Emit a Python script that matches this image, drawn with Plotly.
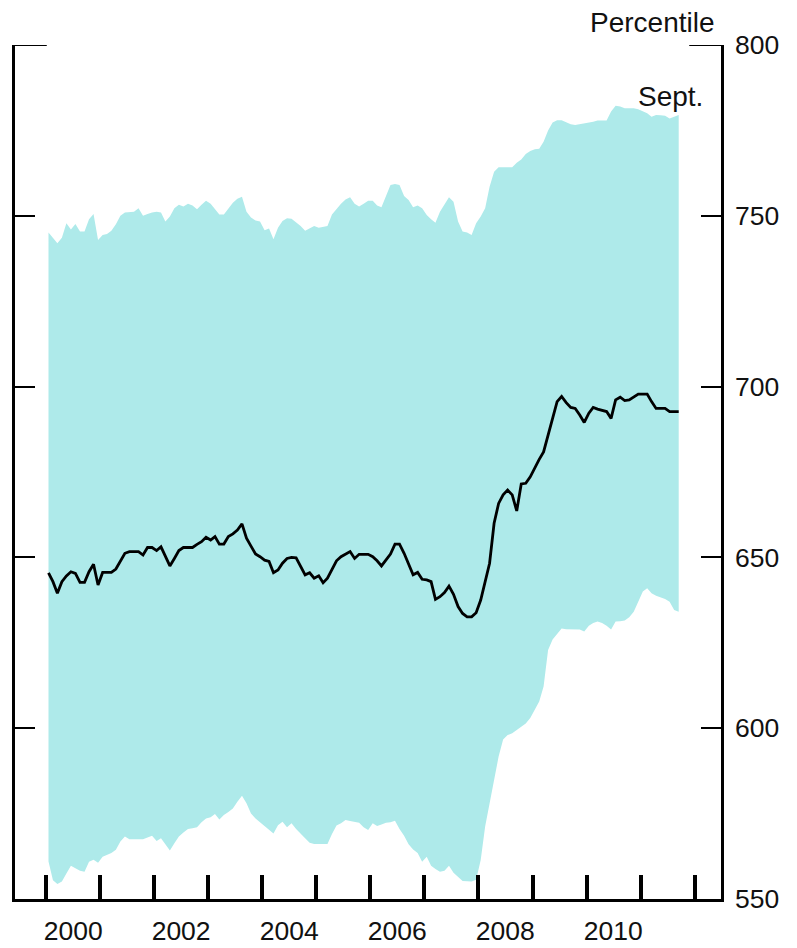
import plotly.graph_objects as go

# Monthly observations, Jan 2000 .. Sept 2011
months = [f"{2000 + m // 12}-{m % 12 + 1:02d}" for m in range(141)]

# 90th (upper) and 10th (lower) percentile band
band_high = [
    745.1, 743.5, 742.0, 743.6, 747.8, 746.0, 747.6, 745.4, 745.4, 749.0,
    750.5, 742.9, 744.4, 744.7, 745.6, 747.5, 750.0, 751.0, 751.2, 751.2,
    752.2, 750.0, 750.5, 751.0, 751.2, 751.0, 748.3, 749.8, 752.2, 753.2,
    752.7, 753.5, 753.0, 751.9, 753.2, 754.4, 753.5, 752.0, 750.4, 750.4,
    752.0, 753.8, 755.0, 755.6, 751.2, 749.5, 748.6, 748.3, 745.8, 746.3,
    743.1, 746.5, 748.5, 749.3, 749.1, 748.0, 747.0, 745.6, 746.3, 747.0,
    746.5, 746.8, 747.0, 750.4, 752.0, 753.5, 754.8, 755.4, 753.5, 752.7,
    753.5, 754.4, 754.4, 753.0, 752.5, 755.5, 759.0, 759.3, 759.0, 755.8,
    754.6, 752.5, 753.0, 752.2, 750.2, 749.0, 748.0, 751.2, 753.5, 755.4,
    754.1, 748.3, 745.4, 745.1, 744.4, 747.8, 749.8, 752.2, 758.5, 762.9,
    764.2, 764.2, 764.2, 764.2, 765.5, 766.5, 768.1, 769.0, 769.5, 769.6,
    771.7, 775.0, 777.3, 778.0, 778.0, 777.5, 776.8, 776.6, 776.8, 777.2,
    777.4, 777.5, 777.9, 778.0, 777.9, 780.5, 782.2, 782.0, 781.5, 781.5,
    781.5, 781.2, 780.7, 780.0, 779.0, 779.5, 779.4, 779.3, 778.5, 779.0,
    779.5,
]
band_low = [
    561.0, 555.5, 554.4, 555.1, 557.5, 559.7, 559.0, 558.3, 558.0, 560.9,
    561.5, 560.6, 562.4, 562.9, 563.5, 564.4, 566.8, 568.3, 567.5, 567.5,
    567.5, 567.5, 568.0, 568.5, 567.0, 567.8, 566.0, 564.2, 566.3, 568.3,
    569.5, 570.5, 570.7, 571.0, 572.5, 573.6, 573.9, 574.9, 573.3, 574.6,
    575.5, 576.5, 578.5, 580.2, 578.0, 575.0, 573.6, 572.5, 571.6, 570.5,
    569.2, 571.6, 572.6, 571.0, 572.2, 570.5, 569.0, 567.8, 566.5, 566.1,
    566.1, 566.1, 566.1, 569.0, 571.5, 572.2, 573.1, 572.8, 572.6, 572.3,
    571.0, 570.2, 572.2, 571.4, 571.8, 572.3, 572.5, 572.9, 570.5, 568.5,
    566.0, 564.5, 563.5, 560.9, 562.4, 559.7, 558.8, 558.0, 558.3, 559.7,
    557.7, 556.5, 555.3, 555.2, 555.1, 555.6, 561.4, 571.2, 578.0, 583.9,
    591.7, 596.7, 598.0, 598.5, 599.5, 600.5, 601.4, 603.0, 605.5, 607.8,
    612.2, 622.9, 626.0, 627.5, 629.2, 629.0, 628.9, 628.9, 628.9, 628.3,
    630.0, 630.8, 631.2, 630.8, 630.0, 628.9, 631.2, 631.3, 631.5, 632.5,
    634.1, 637.0, 640.0, 641.0, 639.5, 638.8, 638.3, 637.8, 637.0, 634.6,
    634.1,
]
# median percentile
median = [
    645.5, 642.9, 639.5, 642.9, 644.6, 645.8, 645.3, 642.7, 642.7, 645.8,
    648.0, 641.9, 645.6, 645.6, 645.6, 646.6, 649.0, 651.2, 651.7, 651.7,
    651.7, 650.7, 652.9, 652.9, 652.0, 653.1, 650.2, 647.5, 649.7, 652.0,
    652.9, 652.9, 652.9, 653.8, 654.6, 655.9, 655.1, 656.1, 653.9, 653.9,
    656.1, 656.9, 658.0, 659.8, 655.6, 653.3, 651.0, 650.2, 649.2, 648.8,
    645.5, 646.3, 648.3, 649.7, 650.0, 649.9, 647.3, 644.9, 645.5, 643.9,
    644.6, 642.6, 643.9, 646.3, 649.0, 650.2, 651.0, 651.7, 649.7, 650.9,
    650.9, 650.9, 650.2, 649.0, 647.5, 649.2, 651.0, 653.9, 653.9, 651.2,
    647.8, 644.9, 645.6, 643.6, 643.4, 642.9, 637.7, 638.5, 639.7, 641.6,
    639.2, 635.6, 633.6, 632.6, 632.6, 633.8, 637.5, 643.4, 648.3, 660.0,
    665.8, 668.3, 669.7, 668.3, 663.6, 671.5, 671.7, 673.6, 676.4, 678.7,
    680.9, 685.8, 691.2, 695.6, 697.1, 695.3, 693.9, 693.6, 691.7, 689.5,
    692.2, 693.9, 693.4, 693.0, 692.7, 690.7, 696.1, 696.9, 695.9, 696.1,
    697.0, 697.8, 697.8, 697.8, 695.6, 693.6, 693.6, 693.6, 692.7, 692.7,
    692.7,
]

year_ticks = [f"{y}-01-01" for y in range(2000, 2013)]
label_years = [2000, 2002, 2004, 2006, 2008, 2010]
y_ticks = [550, 600, 650, 700, 750, 800]

FONT = "Liberation Sans, Arial, sans-serif"
BAND = "#aeeaea"

fig = go.Figure()
fig.add_trace(go.Scatter(x=months, y=band_low, mode="lines", line=dict(width=0, color=BAND),
                         xperiod="M1", xperiodalignment="middle", showlegend=False, hoverinfo="skip"))
fig.add_trace(go.Scatter(x=months, y=band_high, mode="lines", line=dict(width=0, color=BAND),
                         fill="tonexty", fillcolor=BAND,
                         xperiod="M1", xperiodalignment="middle", showlegend=False, hoverinfo="skip"))
fig.add_trace(go.Scatter(x=months, y=median, mode="lines", line=dict(color="black", width=2.8),
                         xperiod="M1", xperiodalignment="middle", showlegend=False))

# page body has an 8px margin, so the figure is offset by that amount
fig.update_layout(
    width=781, height=940,
    margin=dict(l=7, r=68, t=37, b=49),
    plot_bgcolor="white", paper_bgcolor="white",
    font=dict(family=FONT, size=26.5, color="#111"),
    xaxis=dict(
        type="date", range=["1999-06-04", "2012-06-28"], automargin=False,
        showline=True, linecolor="black", linewidth=2.5, showgrid=False, zeroline=False,
        tickmode="array", tickvals=[f"{y}-07-01" for y in label_years],
        ticktext=[str(y) for y in label_years], ticks="", ticklabelstandoff=6,
        minor=dict(tickmode="array", tickvals=year_ticks, ticks="inside",
                   ticklen=24, tickwidth=4, tickcolor="black", showgrid=False),
    ),
    yaxis=dict(
        range=[550, 800], side="right", showline=True, mirror="ticks", automargin=False,
        linecolor="black", linewidth=2.5, showgrid=False, zeroline=False,
        tickmode="array", tickvals=y_ticks, ticks="inside", ticklen=20,
        tickwidth=2, tickcolor="black", ticklabelstandoff=6,
    ),
    shapes=[
        dict(type="line", xref="paper", yref="y", x0=0, x1=0.045, y0=800, y1=800,
             line=dict(color="black", width=2)),
        dict(type="line", xref="paper", yref="y", x0=0.955, x1=1, y0=800, y1=800,
             line=dict(color="black", width=2)),
    ],
    annotations=[
        dict(text="Percentile", xref="paper", yref="paper", x=0.994, y=1.026,
             xanchor="right", yanchor="middle", showarrow=False, font=dict(size=28)),
        dict(text="Sept.", xref="paper", yref="y", x=0.977, y=784.8,
             xanchor="right", yanchor="middle", showarrow=False, font=dict(size=28)),
    ],
)

fig.write_html("out.html")
